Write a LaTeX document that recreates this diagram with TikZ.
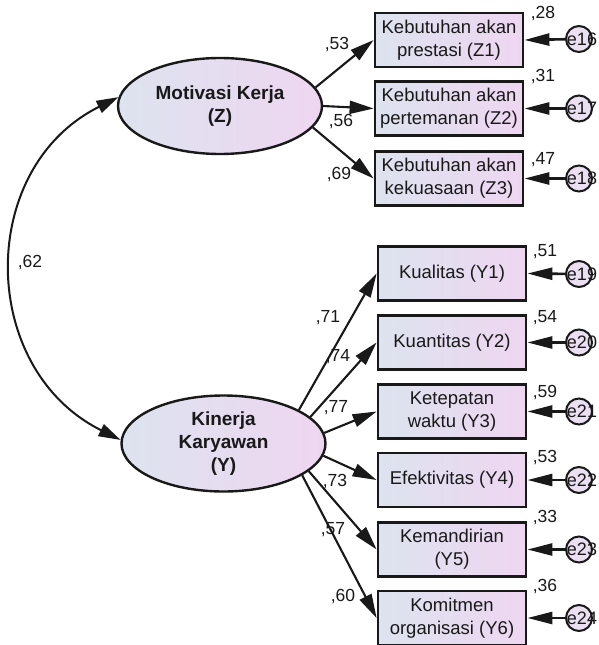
\documentclass[tikz,border=0pt]{standalone}
\usepackage{fontspec}
\setmainfont{Liberation Sans}
\usetikzlibrary{arrows.meta,shapes.geometric}
\definecolor{boxl}{RGB}{221,227,239}
\definecolor{boxr}{RGB}{238,214,241}
\definecolor{cfill}{RGB}{234,224,241}
\definecolor{ink}{RGB}{25,25,25}
\begin{document}
\begin{tikzpicture}[x=1pt,y=-1pt,
  lat/.style={ellipse,draw=ink,line width=2.4pt,left color=boxl,right color=boxr,
    minimum width=204pt,minimum height=96pt,inner sep=0pt,align=center,
    font=\fontsize{19}{23}\selectfont\bfseries,text=ink},
  obs/.style={rectangle,draw=ink,line width=2.8pt,left color=boxl,right color=boxr,
    minimum width=148pt,minimum height=54pt,inner sep=0pt,align=center,
    font=\fontsize{18.5}{23}\selectfont,text=ink},
  ecirc/.style={circle,draw=ink,line width=2pt,fill=cfill,minimum size=26pt,inner sep=0pt,
    font=\fontsize{18}{20}\selectfont,text=ink},
  val/.style={font=\fontsize{17.5}{20}\selectfont,text=ink,inner sep=0pt},
  arr/.style={draw=ink,line width=2.1pt,-{Triangle[length=24pt,width=13pt]}},
  earr/.style={draw=ink,line width=2.6pt,-{Triangle[length=25pt,width=12pt]}},
  cov/.style={draw=ink,line width=2pt,{Triangle[length=22pt,width=13pt]}-{Triangle[length=22pt,width=13pt]}}
]
\clip (0,0) rectangle (598,645);
\fill[white] (0,0) rectangle (598,645);

% latent variables
\node[lat] (mot) at (220,106) {Motivasi Kerja\\(Z)};
\node[lat] (kin) at (223.5,443.5) {Kinerja\\Karyawan\\(Y)};

% indicators
\node[obs] (z1) at (449,40) {Kebutuhan akan\\prestasi (Z1)};
\node[obs] (z2) at (449,108.5) {Kebutuhan akan\\pertemanan (Z2)};
\node[obs] (z3) at (449,178.5) {Kebutuhan akan\\kekuasaan (Z3)};
\node[obs] (y1) at (452,273.5) {Kualitas (Y1)};
\node[obs] (y2) at (452,342.5) {Kuantitas (Y2)};
\node[obs] (y3) at (452,411.5) {Ketepatan\\waktu (Y3)};
\node[obs] (y4) at (452,480) {Efektivitas (Y4)};
\node[obs] (y5) at (452,549.5) {Kemandirian\\(Y5)};
\node[obs] (y6) at (452,618) {Komitmen\\organisasi (Y6)};

% errors
\node[ecirc] (e16) at (579,39) {\makebox[0pt]{\hspace{6pt}e16}};
\node[ecirc] (e17) at (579,108.5) {\makebox[0pt]{\hspace{6pt}e17}};
\node[ecirc] (e18) at (579,178.5) {\makebox[0pt]{\hspace{6pt}e18}};
\node[ecirc] (e19) at (579,274) {\makebox[0pt]{\hspace{6pt}e19}};
\node[ecirc] (e20) at (579,342.5) {\makebox[0pt]{\hspace{6pt}e20}};
\node[ecirc] (e21) at (579,411.5) {\makebox[0pt]{\hspace{6pt}e21}};
\node[ecirc] (e22) at (579,480) {\makebox[0pt]{\hspace{6pt}e22}};
\node[ecirc] (e23) at (579,549.5) {\makebox[0pt]{\hspace{6pt}e23}};
\node[ecirc] (e24) at (579,618) {\makebox[0pt]{\hspace{6pt}e24}};

% loadings
\draw[arr] (mot.11) -- (z1.west);
\draw[arr] (mot.east) -- (z2.west);
\draw[arr] (mot.-13) -- (z3.west);
\draw[arr] (kin.24) -- (y1.west);
\draw[arr] (kin.17) -- (y2.west);
\draw[arr] (kin.6) -- (y3.west);
\draw[arr] (kin.-7) -- (y4.west);
\draw[arr] (kin.-18) -- (y5.west);
\draw[arr] (kin.-22) -- (y6.west);

% error arrows
\foreach \e/\b in {e16/z1,e17/z2,e18/z3,e19/y1,e20/y2,e21/y3,e22/y4,e23/y5,e24/y6}
  \draw[earr] (\e) -- (\b.east);

% covariance
\draw[cov] (mot.175) .. controls (-24,168) and (-22,369) .. (kin.178);

% labels
\node[val] at (30,263) {,62};
\node[val] at (337,45) {,53};
\node[val] at (341,122) {,56};
\node[val] at (339,175) {,69};
\node[val] at (328,318) {,71};
\node[val] at (338,357) {,74};
\node[val] at (336,408) {,77};
\node[val] at (335,482) {,73};
\node[val] at (333,530) {,57};
\node[val] at (343,597) {,60};

\node[val] at (543,14) {,28};
\node[val] at (543,77) {,31};
\node[val] at (543,160) {,47};
\node[val] at (545,252) {,51};
\node[val] at (545,318) {,54};
\node[val] at (545,393) {,59};
\node[val] at (545,458) {,53};
\node[val] at (545,518) {,33};
\node[val] at (545,587) {,36};
\end{tikzpicture}
\end{document}
